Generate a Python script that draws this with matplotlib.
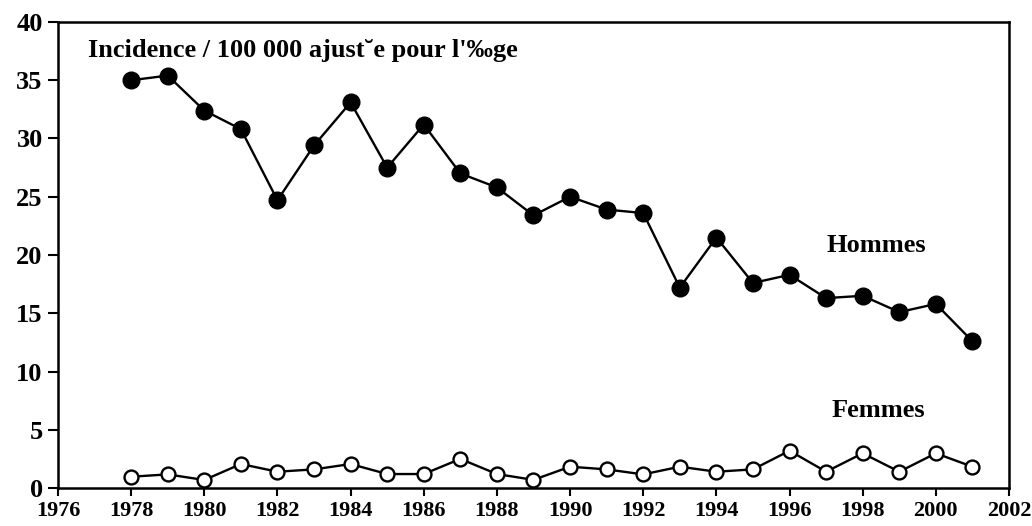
import matplotlib.pyplot as plt

years = list(range(1978, 2002))
hommes = [35.0, 35.4, 32.4, 30.8, 24.7, 29.4, 33.1, 27.5, 31.2, 27.0, 25.8, 23.4,
          25.0, 23.9, 23.6, 17.2, 21.5, 17.6, 18.3, 16.3, 16.5, 15.1, 15.8, 12.6]
femmes = [0.97, 1.17, 0.69, 2.06, 1.4, 1.6, 2.06, 1.2, 1.2, 2.5, 1.2, 0.7,
          1.83, 1.6, 1.17, 1.83, 1.4, 1.6, 3.2, 1.4, 2.98, 1.4, 2.98, 1.83]
xticks = list(range(1976, 2003, 2))
yticks = list(range(0, 41, 5))

plt.rcParams['font.family'] = 'Liberation Serif'
plt.rcParams['font.weight'] = 'bold'

fig = plt.figure(figsize=(10.32, 5.26), dpi=100)
ax = fig.add_axes([0.0562, 0.0722, 0.9215, 0.886])

ax.plot(years, hommes, color='black', linewidth=1.7, marker='o', markersize=12,
        markerfacecolor='black', markeredgecolor='black')
ax.plot(years, femmes, color='black', linewidth=1.7, marker='o', markersize=10,
        markerfacecolor='white', markeredgecolor='black', markeredgewidth=1.7)

ax.set_xlim(1976, 2002)
ax.set_ylim(0, 40)
ax.set_xticks(xticks)
ax.set_yticks(yticks)
ax.tick_params(axis='x', direction='out', length=6, width=1.5, labelsize=16, pad=3)
ax.tick_params(axis='y', direction='out', length=7, width=1.5, labelsize=19, pad=4)
for lab in ax.get_xticklabels() + ax.get_yticklabels():
    lab.set_fontweight('bold')
for s in ax.spines.values():
    s.set_linewidth(1.8)

ax.text(1976.82, 37.02, "Incidence / 100 000 ajust\u02d8e pour l'\u2030ge",
        fontsize=19, fontweight='bold', va='baseline', ha='left')
ax.text(1997.02, 20.26, "Hommes", fontsize=19, fontweight='bold', va='baseline', ha='left')
ax.text(1997.15, 6.09, "Femmes", fontsize=19, fontweight='bold', va='baseline', ha='left')

fig.savefig('out.png', dpi=100)
